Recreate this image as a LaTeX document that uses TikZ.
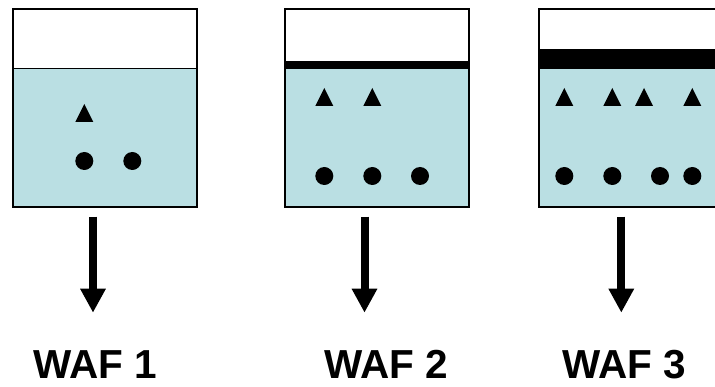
\documentclass[tikz,border=0pt]{standalone}
\usepackage{fontspec}
\setmainfont{Liberation Sans}
\usetikzlibrary{arrows.meta}
\definecolor{water}{RGB}{186,223,227}
\begin{document}
\begin{tikzpicture}[x=1pt,y=-1pt,
  tank/.style={draw=black,line width=2pt,minimum width=184pt,minimum height=197.5pt,inner sep=0pt,outer sep=0pt},
  waterfill/.style={fill=water},
  band/.style={fill=black},
  flow/.style={line width=8pt,-{Triangle[width=24pt,length=24pt]}},
  waf/.style={font=\fontsize{40.5}{48}\selectfont\bfseries,anchor=base,inner sep=0pt,text depth=0pt},
  pics/tri/.style={code={\fill (-9,9) -- (9,9) -- (0,-9) -- cycle;}},
  pics/dot/.style={code={\fill (0,0) circle (9);}}]
\useasboundingbox (0,0) rectangle (715,387);
\clip (0,0) rectangle (715,387);
% water
\fill[waterfill] (12.7,68.3) rectangle (196.7,206.7);
\fill[waterfill] (284.5,65) rectangle (468.5,206.7);
\fill[waterfill] (539.3,65) rectangle (723.3,206.7);
% films
\draw[line width=1pt] (12.7,68.3) -- (196.7,68.3);
\fill[band] (284.5,61) rectangle (468.5,69);
\fill[band] (539.3,49.3) rectangle (723.3,69.3);
% tanks
\node[tank] (b1) at (104.7,108) {};
\node[tank] (b2) at (376.5,108) {};
\node[tank] (b3) at (631.3,108) {};
% tank 1 contents
\pic at (84.3,113) {tri};
\pic at (84.3,161) {dot};
\pic at (132.3,161) {dot};
% tank 2 contents
\pic at (324.3,97) {tri};
\pic at (372.3,97) {tri};
\pic at (324.3,176) {dot};
\pic at (372.3,176) {dot};
\pic at (420,176) {dot};
% tank 3 contents
\pic at (564.3,97) {tri};
\pic at (612.3,97) {tri};
\pic at (644,97) {tri};
\pic at (692.3,97) {tri};
\pic at (564.3,176) {dot};
\pic at (612.3,176) {dot};
\pic at (660,176) {dot};
\pic at (692.3,176) {dot};
% arrows
\coordinate (a1s) at (93,216.7);
\coordinate (a1e) at (93,312.7);
\coordinate (a2s) at (364.5,216.7);
\coordinate (a2e) at (364.5,312.7);
\coordinate (a3s) at (621.3,216.7);
\coordinate (a3e) at (621.3,312.7);
\draw[flow] (a1s) -- (a1e);
\draw[flow] (a2s) -- (a2e);
\draw[flow] (a3s) -- (a3e);
% labels
\node[waf] (w1) at (95.2,378.5) {WAF 1};
\node[waf] (w2) at (386.5,378.5) {WAF 2};
\node[waf] (w3) at (624.2,378.5) {WAF 3};
\end{tikzpicture}
\end{document}
